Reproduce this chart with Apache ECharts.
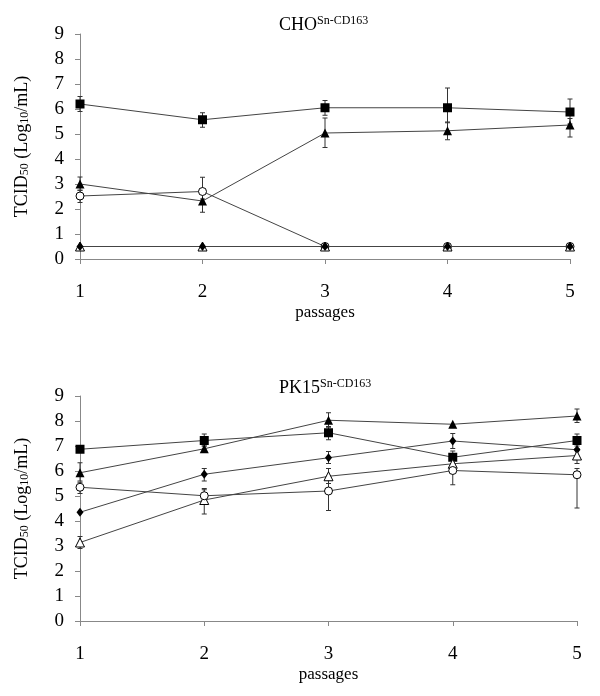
<!DOCTYPE html>
<html>
<head>
<meta charset="utf-8">
<script src="https://cdn.jsdelivr.net/npm/echarts@6/dist/echarts.min.js"></script>
<style>
html,body{margin:0;padding:0;background:#fff;}
#chart{width:600px;height:696px;}
</style>
</head>
<body>
<div id="chart"></div>
<script>
// ---- data ----
const passages = [1, 2, 3, 4, 5];
const yTicks = [0, 1, 2, 3, 4, 5, 6, 7, 8, 9];

// CHO Sn-CD163
const choSquare      = [6.20, 5.57, 6.05, 6.05, 5.88];
const choSquareLo    = [5.90, 5.27, 5.75, 5.45, 5.40];
const choSquareHi    = [6.50, 5.85, 6.34, 6.84, 6.40];
const choTriFilled   = [3.00, 2.32, 5.04, 5.13, 5.36];
const choTriFilledLo = [2.75, 1.87, 4.46, 4.77, 4.88];
const choTriFilledHi = [3.28, 2.60, 5.64, 5.48, 5.62];
const choCircle      = [2.52, 2.70, 0.50, 0.50, 0.50];
const choCircleLo    = [2.26, 2.40, 0.50, 0.50, 0.50];
const choCircleHi    = [2.75, 3.27, 0.50, 0.50, 0.50];
const choTriOpen     = [0.50, 0.50, 0.50, 0.50, 0.50];
const choDiamond     = [0.50, 0.50, 0.50, 0.50, 0.50];

// PK15 Sn-CD163
const pkTriFilled    = [5.93, 6.89, 8.03, 7.87, 8.20];
const pkTriFilledLo  = [5.60, 6.75, 7.75, 7.87, 7.94];
const pkTriFilledHi  = [6.33, 7.00, 8.33, 7.87, 8.48];
const pkSquare       = [6.87, 7.22, 7.53, 6.55, 7.22];
const pkSquareLo     = [6.87, 7.00, 7.25, 6.30, 7.00];
const pkSquareHi     = [6.87, 7.48, 7.78, 6.80, 7.48];
const pkDiamond      = [4.35, 5.87, 6.53, 7.20, 6.85];
const pkDiamondLo    = [4.35, 5.60, 6.30, 6.90, 6.55];
const pkDiamondHi    = [4.35, 6.10, 6.78, 7.50, 7.15];
const pkTriOpen      = [3.14, 4.84, 5.79, 6.29, 6.62];
const pkTriOpenLo    = [2.90, 4.28, 5.50, 6.00, 6.30];
const pkTriOpenHi    = [3.38, 5.30, 6.10, 6.55, 6.90];
const pkCircle       = [5.35, 5.01, 5.20, 6.02, 5.85];
const pkCircleLo     = [5.10, 4.75, 4.42, 5.45, 4.52];
const pkCircleHi     = [5.55, 5.25, 5.50, 6.30, 6.10];

// ---- styling helpers ----
const FONT = '"Liberation Serif", "DejaVu Serif", serif';
const LINE = '#444';
const AXIS = '#888';

function pairs(vals) { return passages.map((p, i) => [p, vals[i]]); }

function lineSeries(idx, vals, symbol, filled, size, z) {
  return {
    type: 'line', xAxisIndex: idx, yAxisIndex: idx,
    data: pairs(vals), symbol: symbol, symbolSize: size,
    showAllSymbol: true, z: z,
    lineStyle: { color: LINE, width: 1 },
    itemStyle: { color: filled ? '#000' : '#fff', borderColor: '#000', borderWidth: filled ? 0 : 1 },
    emphasis: { disabled: true }, animation: false
  };
}

function errData(sets) {
  const out = [];
  sets.forEach(s => {
    passages.forEach((p, i) => {
      if (s[1][i] !== s[0][i] || s[2][i] !== s[0][i]) out.push([p, s[1][i], s[2][i]]);
    });
  });
  return out;
}

function errSeries(idx, data) {
  return {
    type: 'custom', xAxisIndex: idx, yAxisIndex: idx, z: 1, animation: false,
    data: data,
    renderItem: function (params, api) {
      const x = api.value(0);
      const lo = api.coord([x, api.value(1)]);
      const hi = api.coord([x, api.value(2)]);
      const w = 2.5;
      const st = { stroke: '#333', lineWidth: 1 };
      return {
        type: 'group',
        children: [
          { type: 'line', shape: { x1: lo[0], y1: lo[1], x2: hi[0], y2: hi[1] }, style: st },
          { type: 'line', shape: { x1: lo[0] - w, y1: lo[1], x2: lo[0] + w, y2: lo[1] }, style: st },
          { type: 'line', shape: { x1: hi[0] - w, y1: hi[1], x2: hi[0] + w, y2: hi[1] }, style: st }
        ]
      };
    }
  };
}

function xAxisCfg(idx, margin) {
  return {
    gridIndex: idx, type: 'value', min: passages[0], max: passages[passages.length - 1], interval: 1,
    name: 'passages', nameLocation: 'middle', nameGap: 45,
    nameTextStyle: { fontFamily: FONT, fontSize: 17, color: '#000' },
    axisLine: { show: true, lineStyle: { color: AXIS, width: 1 } },
    axisTick: { show: true, inside: false, length: 5, lineStyle: { color: AXIS } },
    axisLabel: { fontFamily: FONT, fontSize: 19, color: '#000', margin: margin },
    splitLine: { show: false }
  };
}

function yAxisCfg(idx) {
  return {
    gridIndex: idx, type: 'value', min: yTicks[0], max: yTicks[yTicks.length - 1], interval: 1,
    name: 'TCID{sub|50} (Log{sub|10}/mL)', nameLocation: 'middle', nameGap: 49,
    nameTextStyle: {
      fontFamily: FONT, fontSize: 18, color: '#000',
      rich: { sub: { fontFamily: FONT, fontSize: 12, color: '#000', verticalAlign: 'bottom', lineHeight: 14, padding: [6, 0, 0, 0] } }
    },
    axisLine: { show: true, lineStyle: { color: AXIS, width: 1 } },
    axisTick: { show: true, inside: false, length: 5, lineStyle: { color: AXIS } },
    axisLabel: { fontFamily: FONT, fontSize: 19, color: '#000', margin: 16 },
    splitLine: { show: false }
  };
}

function titleCfg(main, top) {
  return {
    text: main + '{sup|Sn-CD163}', left: 274, top: top,
    textStyle: {
      fontFamily: FONT, fontSize: 18, fontWeight: 'normal', color: '#000',
      rich: { sup: { fontFamily: FONT, fontSize: 12, color: '#000', padding: [0, 0, 8, 0] } }
    }
  };
}

const chart = echarts.init(document.getElementById('chart'), null, { renderer: 'canvas' });
chart.setOption({
  backgroundColor: '#fff',
  animation: false,
  title: [titleCfg('CHO', 10), titleCfg('PK15', 373)],
  grid: [
    { left: 80, right: 30, top: 34, bottom: 437 },
    { left: 80, right: 23, top: 396, bottom: 75 }
  ],
  xAxis: [xAxisCfg(0, 24), xAxisCfg(1, 24)],
  yAxis: [yAxisCfg(0), yAxisCfg(1)],
  series: [
    errSeries(0, errData([
      [choSquare, choSquareLo, choSquareHi],
      [choTriFilled, choTriFilledLo, choTriFilledHi],
      [choCircle, choCircleLo, choCircleHi]
    ])),
    lineSeries(0, choSquare, 'rect', true, 9, 3),
    lineSeries(0, choTriFilled, 'triangle', true, 9, 3),
    lineSeries(0, choCircle, 'circle', false, 8, 3),
    lineSeries(0, choTriOpen, 'triangle', false, 9, 4),
    lineSeries(0, choDiamond, 'diamond', true, [7, 9], 5),

    errSeries(1, errData([
      [pkTriFilled, pkTriFilledLo, pkTriFilledHi],
      [pkSquare, pkSquareLo, pkSquareHi],
      [pkDiamond, pkDiamondLo, pkDiamondHi],
      [pkTriOpen, pkTriOpenLo, pkTriOpenHi],
      [pkCircle, pkCircleLo, pkCircleHi]
    ])),
    lineSeries(1, pkTriFilled, 'triangle', true, 9, 3),
    lineSeries(1, pkSquare, 'rect', true, 9, 3),
    lineSeries(1, pkDiamond, 'diamond', true, [7, 9], 3),
    lineSeries(1, pkTriOpen, 'triangle', false, 9, 3),
    lineSeries(1, pkCircle, 'circle', false, 8, 3)
  ]
});
</script>
</body>
</html>
